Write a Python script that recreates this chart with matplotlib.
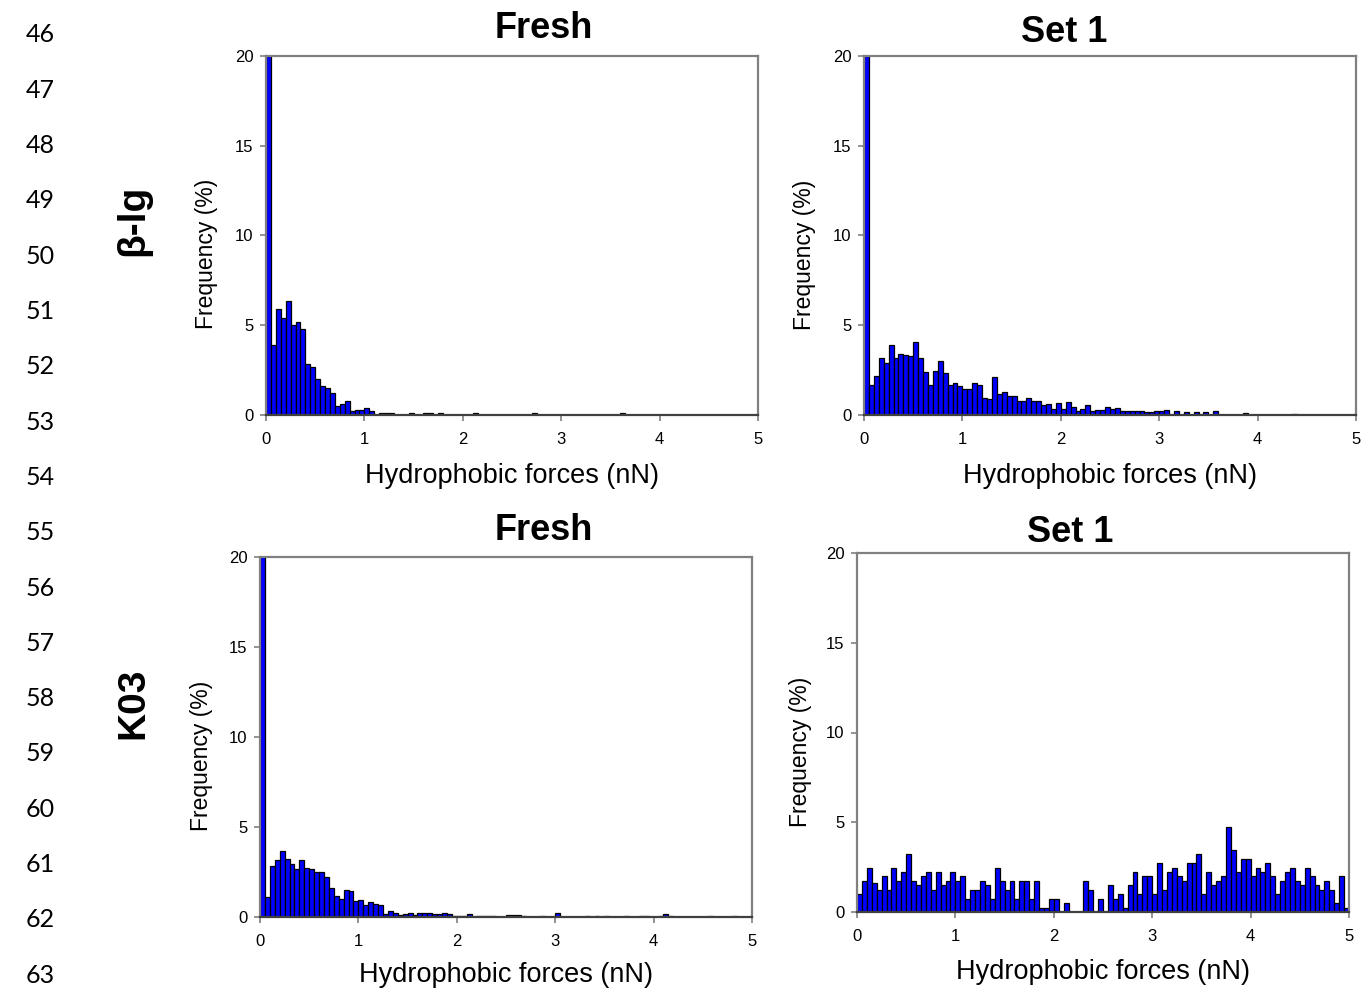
import numpy as np
import matplotlib
matplotlib.use('Agg')
import matplotlib.pyplot as plt

plt.rcParams['font.family'] = ['Liberation Sans', 'DejaVu Sans']

# bin left edges, 0.05 nN wide
bin_edges = np.round(np.arange(0, 5, 0.05), 2)

# frequency (%) per bin
blg_fresh = [31, 3.9, 5.9, 5.4, 6.35, 5.0, 5.2, 4.8, 2.85, 2.65,
             2.0, 1.6, 1.5, 1.25, 0.5, 0.6, 0.8, 0.2, 0.3, 0.3,
             0.4, 0.2, 0, 0.1, 0.1, 0.1, 0, 0, 0, 0.1,
             0, 0, 0.1, 0.1, 0, 0.1, 0, 0, 0, 0,
             0, 0, 0.1, 0, 0, 0, 0, 0, 0, 0,
             0, 0, 0, 0, 0.1, 0, 0, 0, 0, 0,
             0, 0, 0, 0, 0, 0, 0, 0, 0, 0,
             0, 0, 0.1, 0, 0, 0, 0, 0, 0, 0,
             0, 0, 0, 0, 0, 0, 0, 0, 0, 0,
             0, 0, 0, 0, 0, 0, 0, 0, 0, 0]

blg_set1 = [30, 1.65, 2.15, 3.2, 2.9, 3.9, 3.15, 3.4, 3.35, 3.3,
            4.05, 3.15, 2.4, 1.65, 2.45, 3.0, 2.35, 1.65, 1.8, 1.6,
            1.45, 1.45, 1.8, 1.65, 0.95, 0.9, 2.1, 1.15, 1.3, 1.05,
            1.05, 0.8, 0.8, 0.95, 0.8, 0.8, 0.55, 0.6, 0.35, 0.65,
            0.35, 0.7, 0.45, 0.25, 0.35, 0.55, 0.2, 0.3, 0.3, 0.45,
            0.35, 0.4, 0.25, 0.25, 0.2, 0.2, 0.25, 0.15, 0.15, 0.2,
            0.2, 0.3, 0, 0.2, 0, 0.15, 0, 0.15, 0, 0.15,
            0, 0.25, 0, 0, 0, 0, 0, 0.1, 0, 0,
            0, 0, 0, 0, 0, 0, 0, 0.05, 0, 0,
            0, 0, 0, 0, 0, 0, 0, 0, 0, 0]

k03_fresh = [30, 1.1, 2.85, 3.15, 3.65, 3.2, 2.95, 2.65, 3.15, 2.7,
             2.65, 2.5, 2.5, 2.25, 1.6, 1.15, 1.0, 1.5, 1.45, 0.9,
             0.95, 0.65, 0.85, 0.7, 0.65, 0.15, 0.35, 0.2, 0.1, 0.15,
             0.25, 0.1, 0.25, 0.2, 0.25, 0.15, 0.15, 0.2, 0.15, 0.05,
             0.05, 0.05, 0.15, 0, 0.07, 0.07, 0.07, 0.07, 0, 0,
             0.1, 0.1, 0.1, 0.05, 0, 0, 0, 0.05, 0, 0,
             0.2, 0, 0, 0, 0, 0, 0.07, 0, 0.07, 0,
             0.07, 0, 0, 0, 0.07, 0, 0, 0.07, 0.07, 0,
             0, 0.07, 0.15, 0.07, 0, 0, 0, 0, 0, 0,
             0, 0.05, 0, 0, 0, 0, 0.05, 0, 0, 0]

k03_set1 = [0.99, 1.75, 2.47, 1.63, 1.24, 1.99, 1.24, 2.47, 1.75, 2.23,
            3.23, 1.75, 1.49, 1.99, 2.23, 1.24, 2.23, 1.49, 1.75, 2.23,
            1.75, 1.99, 0.74, 1.24, 1.24, 1.75, 1.49, 0.74, 2.47, 1.75,
            1.24, 1.75, 0.74, 1.75, 1.75, 0.74, 1.75, 0.24, 0.24, 0.74,
            0.74, 0, 0.48, 0, 0, 0, 1.75, 1.24, 0, 0.74,
            0, 1.49, 0.74, 0.99, 0.24, 1.49, 2.23, 0.99, 1.99, 1.99,
            0.99, 2.73, 1.24, 2.23, 2.47, 1.99, 1.75, 2.73, 2.73, 3.23,
            0.99, 2.23, 1.49, 1.75, 1.99, 4.72, 3.47, 2.23, 2.97, 2.97,
            1.99, 2.47, 2.23, 2.73, 1.99, 0.99, 1.75, 2.23, 2.47, 1.75,
            1.49, 2.47, 1.99, 1.49, 1.24, 1.75, 1.24, 0.48, 1.99, 0.24]

panel_titles = ['Fresh', 'Set 1', 'Fresh', 'Set 1']
row_labels = ['β-lg', 'K03']
x_label = 'Hydrophobic forces (nN)'
y_label = 'Frequency (%)'
x_ticks = [0, 1, 2, 3, 4, 5]
y_ticks = [0, 5, 10, 15, 20]
line_numbers = list(range(46, 64))

W, H = 1362, 990
fig = plt.figure(figsize=(W / 100, H / 100), dpi=100)


def px_axes(left, bottom, width, height):
    return fig.add_axes([left / W, 1 - bottom / H, width / W, height / H])


def draw_panel(ax, values):
    ax.bar(bin_edges, values, width=0.05, align='edge', color='#0000ff',
           edgecolor='black', linewidth=0.9, zorder=2)
    ax.set_xlim(0, 5)
    ax.set_ylim(0, 20)
    ax.set_xticks(x_ticks)
    ax.set_yticks(y_ticks)
    ax.tick_params(direction='out', length=4, width=1.2, color='#808080',
                   labelsize=12)
    ax.tick_params(axis='x', pad=8)
    ax.tick_params(axis='y', pad=5)
    for side in ['top', 'right', 'left']:
        ax.spines[side].set_color('#808080')
        ax.spines[side].set_linewidth(1.6)
    ax.spines['bottom'].set_color('#404040')
    ax.spines['bottom'].set_linewidth(1.6)
    ax.spines['bottom'].set_zorder(3)


# (left, bottom, width, height) in pixels
boxes = [(266, 415, 492, 359), (864, 415, 492, 359),
         (260, 917, 492, 360), (857, 912, 492, 359)]
data = [blg_fresh, blg_set1, k03_fresh, k03_set1]
for box, vals in zip(boxes, data):
    draw_panel(px_axes(*box), vals)


def ftext(x, y, s, **kw):
    fig.text(x / W, 1 - y / H, s, ha='center', va='center', **kw)


title_pos = [(544, 28), (1064, 32), (544, 530), (1070, 533)]
for (x, y), t in zip(title_pos, panel_titles):
    ftext(x, y, t, fontsize=26, fontweight='bold')

for (x, y), t in zip([(133, 220), (133, 703)], row_labels):
    ftext(x, y, t, fontsize=28, fontweight='bold', rotation=90)

for x, y in [(207, 254), (805, 255), (202, 756), (800, 752)]:
    ftext(x, y, y_label, fontsize=16.5, rotation=90)

for x, y in [(512, 476), (1110, 476), (506, 975), (1103, 972)]:
    ftext(x, y, x_label, fontsize=19.5)

# line numbers of the manuscript page
for i, n in enumerate(line_numbers):
    ftext(40, 35 + 55.3 * i, str(n), fontsize=18, family=['Lato', 'DejaVu Sans'])

fig.savefig('out.png', dpi=100)
